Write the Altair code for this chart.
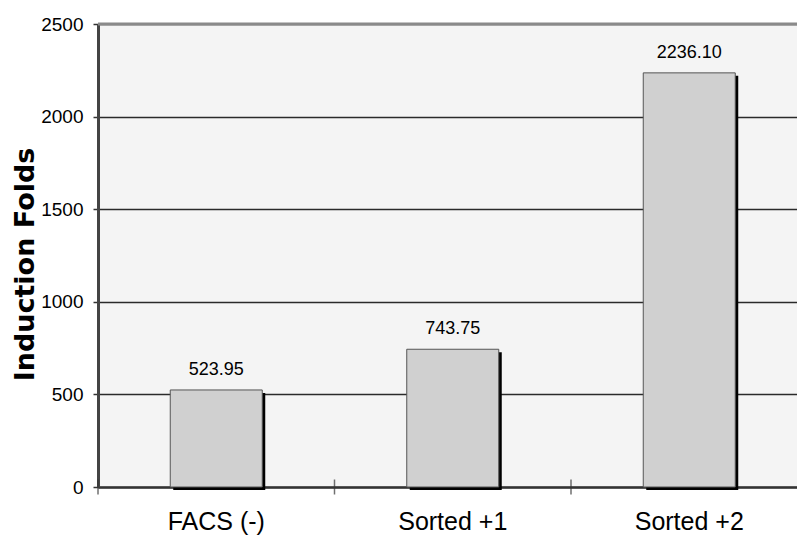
import altair as alt
import pandas as pd

# Induction folds per sorting condition
categories = ["FACS (-)", "Sorted +1", "Sorted +2"]
folds = [523.95, 743.75, 2236.10]
y_ticks = [0, 500, 1000, 1500, 2000, 2500]

df = pd.DataFrame({"condition": categories, "folds": folds})

x_scale = alt.Scale(domain=categories, range=[0, 709.5], paddingInner=0, paddingOuter=0)

x_enc = alt.X(
    "condition:N",
    sort=categories,
    scale=x_scale,
    axis=alt.Axis(
        title=None,
        ticks=False,
        domainColor="#333333",
        domainWidth=2.5,
        labelFont="Liberation Sans",
        labelFontSize=25,
        labelColor="#000000",
        labelAngle=0,
        labelBaseline="alphabetic",
        labelPadding=42,
    ),
)

y_scale = alt.Scale(domain=[0, 2500], nice=False, zero=True)
y_enc = alt.Y(
    "folds:Q",
    scale=y_scale,
    axis=alt.Axis(
        title="Induction Folds",
        titleFont="DejaVu Sans",
        titleFontSize=27,
        titleFontWeight="bold",
        titleColor="#000000",
        titleAngle=-90,
        titleAlign="center",
        titleBaseline="middle",
        titleX=-73,
        titleY=240,
        values=y_ticks,
        format="d",
        grid=True,
        gridColor="#2a2a2a",
        gridWidth=1.5,
        domainColor="#444444",
        domainWidth=3,
        tickColor="#333333",
        tickWidth=1.5,
        tickSize=5,
        labelFont="Liberation Sans",
        labelFontSize=19,
        labelColor="#000000",
        labelPadding=10,
        labelBaseline="middle",
    ),
)

base = alt.Chart(df)

# gray frame line along the top of the plot
top_border = alt.Chart(pd.DataFrame({"top": [2500]})).mark_rule(
    color="#8a8a8a", strokeWidth=3
).encode(y=alt.Y("top:Q", scale=y_scale))

# dark drop shadow on the right side of each bar
shadow = base.mark_bar(
    color="#000000", size=92, xOffset=3, yOffset=3
).encode(x=x_enc, y=y_enc)

bars = base.mark_bar(
    color="#d0d0d0", stroke="#555555", strokeWidth=1, size=92
).encode(x=x_enc, y=y_enc)

labels = base.mark_text(
    font="Liberation Sans", fontSize=18, color="#000000", baseline="alphabetic", dy=-15
).encode(x=x_enc, y=y_enc, text=alt.Text("folds:Q", format=".2f"))

# category separator ticks crossing the x axis
sep_ticks = base.mark_tick(
    orient="vertical", color="#333333", thickness=1.5, size=15
).encode(
    x=alt.X("condition:N", sort=categories, bandPosition=0, scale=x_scale),
    y=alt.datum(0),
)

chart = alt.layer(top_border, shadow, bars, labels, sep_ticks).properties(
    width=699,
    height=463,
    autosize=alt.AutoSizeParams(type="none"),
    padding={"left": 98, "top": 24, "right": 0, "bottom": 49},
    background="#ffffff",
).configure_view(
    fill="#f4f4f4", stroke="transparent"
)

chart.save("out.html", embed_options={"renderer": "svg", "actions": False})
